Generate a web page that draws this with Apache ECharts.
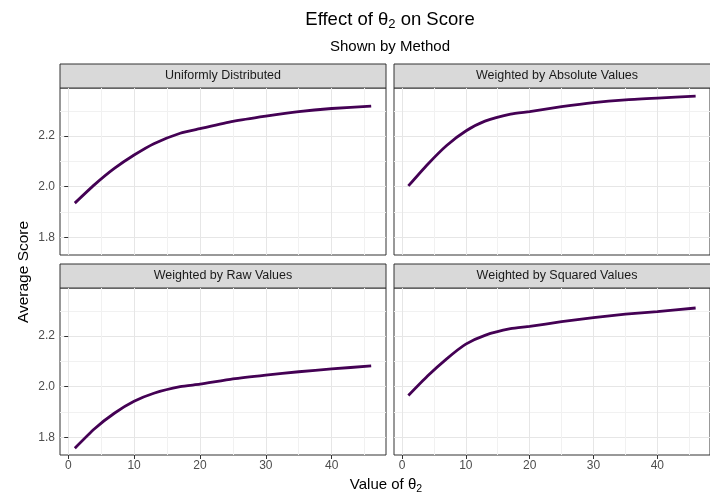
<!DOCTYPE html>
<html>
<head>
<meta charset="utf-8">
<script src="https://cdn.jsdelivr.net/npm/echarts@6/dist/echarts.min.js"></script>
<style>
  html, body { margin: 0; padding: 0; background: #fff; }
  #chart { width: 710px; height: 494px; }
</style>
</head>
<body>
<div id="chart"></div>
<script>
// values
const thetaValues = [1, 4, 7, 10, 13, 17, 20, 25, 30, 35, 40, 46];
const uniformScores = [1.935, 2.008, 2.072, 2.125, 2.170, 2.211, 2.229, 2.258, 2.279, 2.297, 2.309, 2.318];
const absoluteScores = [2.003, 2.088, 2.163, 2.220, 2.259, 2.287, 2.297, 2.316, 2.332, 2.343, 2.350, 2.358];
const rawScores = [1.757, 1.834, 1.895, 1.942, 1.974, 2.000, 2.010, 2.031, 2.046, 2.059, 2.070, 2.082];
const squaredScores = [1.965, 2.042, 2.110, 2.168, 2.203, 2.229, 2.238, 2.257, 2.273, 2.287, 2.297, 2.311];
const panelNames = ['Uniformly Distributed', 'Weighted by Absolute Values', 'Weighted by Raw Values', 'Weighted by Squared Values'];
const xTicks = [0, 10, 20, 30, 40];
const yTicks = [1.8, 2.0, 2.2];

const chart = echarts.init(document.getElementById('chart'));
const FONT = 'Liberation Sans';
const lineColor = '#440154';

// panel boxes: left column / right column, top row / bottom row
const panels = [
    { left: 60, top: 88, data: uniformScores, showY: true, showX: false },
    { left: 394, top: 88, data: absoluteScores, showY: false, showX: false },
    { left: 60, top: 288, data: rawScores, showY: true, showX: true },
    { left: 394, top: 288, data: squaredScores, showY: false, showX: true }
];
const panelW = 326, panelH = 167, stripH = 24;

const grids = [], xAxes = [], yAxes = [], series = [], graphics = [];

panels.forEach((p, i) => {
    grids.push({
        left: p.left, top: p.top, width: panelW, height: panelH,
        show: true, borderColor: '#333333', borderWidth: 1, backgroundColor: '#fff'
    });
    xAxes.push({
        type: 'value', gridIndex: i, min: -1.25, max: 48.25, splitNumber: 5,
        axisLine: { show: false },
        axisTick: { show: p.showX, customValues: xTicks, length: 4, lineStyle: { color: '#333' } },
        axisLabel: { show: p.showX, customValues: xTicks, color: '#4d4d4d', fontSize: 12, fontFamily: FONT, margin: 5 },
        splitLine: { show: true, lineStyle: { color: '#e6e6e6', width: 1 } },
        minorTick: { show: false, splitNumber: 2 },
        minorSplitLine: { show: true, lineStyle: { color: '#f1f1f1', width: 1 } }
    });
    yAxes.push({
        type: 'value', gridIndex: i, min: 1.73, max: 2.39, splitNumber: 3,
        axisLine: { show: false },
        axisTick: { show: p.showY, customValues: yTicks, length: 4, lineStyle: { color: '#333' } },
        axisLabel: { show: p.showY, customValues: yTicks, color: '#4d4d4d', fontSize: 12, fontFamily: FONT, margin: 5,
            formatter: v => v.toFixed(1) },
        splitLine: { show: true, lineStyle: { color: '#e6e6e6', width: 1 } },
        minorTick: { show: false, splitNumber: 2 },
        minorSplitLine: { show: true, lineStyle: { color: '#f1f1f1', width: 1 } }
    });
    series.push({
        type: 'line', xAxisIndex: i, yAxisIndex: i,
        data: thetaValues.map((x, k) => [x, p.data[k]]),
        showSymbol: false, smooth: 0.2,
        lineStyle: { color: lineColor, width: 2.8 },
        itemStyle: { color: lineColor },
        z: 5
    });
    // facet strip
    graphics.push({
        type: 'rect', shape: { x: p.left, y: p.top - stripH, width: panelW, height: stripH },
        style: { fill: '#d9d9d9', stroke: '#333333', lineWidth: 1 }
    });
    graphics.push({
        type: 'text', x: p.left + panelW / 2, y: p.top - stripH / 2,
        style: { text: panelNames[i], fill: '#1a1a1a', font: '12.5px "Liberation Sans"', align: 'center', verticalAlign: 'middle' }
    });
});

// titles and axis names
graphics.push({
    type: 'text', x: 390, y: 20,
    style: {
        text: '{a|Effect of θ}{s|2}{a| on Score}', align: 'center', verticalAlign: 'middle',
        rich: {
            a: { fontSize: 18.5, fontFamily: FONT, fill: '#000', color: '#000' },
            s: { fontSize: 13, fontFamily: FONT, fill: '#000', color: '#000', padding: [9, 0, 0, 0] }
        }
    }
});
graphics.push({
    type: 'text', x: 390, y: 47,
    style: { text: 'Shown by Method', fill: '#000', font: '15px "Liberation Sans"', align: 'center', verticalAlign: 'middle' }
});
graphics.push({
    type: 'text', x: 24, y: 272, rotation: Math.PI / 2,
    style: { text: 'Average Score', fill: '#000', font: '15.5px "Liberation Sans"', align: 'center', verticalAlign: 'middle' }
});
graphics.push({
    type: 'text', x: 386, y: 485,
    style: {
        text: '{a|Value of θ}{s|2}', align: 'center', verticalAlign: 'middle',
        rich: {
            a: { fontSize: 15, fontFamily: FONT, fill: '#000', color: '#000' },
            s: { fontSize: 10.5, fontFamily: FONT, fill: '#000', color: '#000', padding: [8, 0, 0, 0] }
        }
    }
});

chart.setOption({
    animation: false,
    grid: grids,
    xAxis: xAxes,
    yAxis: yAxes,
    series: series,
    graphic: graphics
});
</script>
</body>
</html>
